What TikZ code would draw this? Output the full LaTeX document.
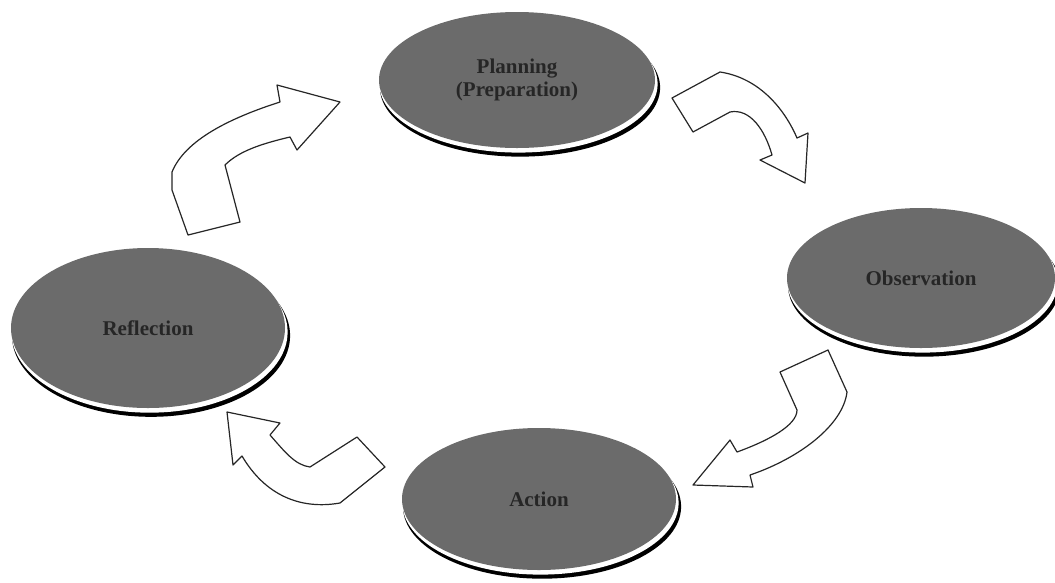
\documentclass[tikz,border=0pt]{standalone}
\usepackage{fontspec}
\setmainfont{Liberation Serif}
\usepackage{xcolor}
\usepackage{tikz}
\usetikzlibrary{shapes.geometric, shadows}

\definecolor{stagegray}{RGB}{107,107,107}

\begin{document}
\begin{tikzpicture}[
        x=1pt, y=-1pt,
        stage/.style={
            ellipse,
            fill=stagegray,
            inner sep=0pt,
            align=center,
            text=black!85,
            font=\fontsize{21}{23}\selectfont\bfseries,
            general shadow={fill=black, shadow scale=1.015, shadow xshift=3pt, shadow yshift=-7.5pt},
            general shadow={fill=white, shadow scale=1.008, shadow xshift=1.5pt, shadow yshift=-4pt}
        },
        turn/.style={draw=black!85, line width=1.2pt, fill=white, line join=round}
    ]

    \useasboundingbox (0,0) rectangle (1055,582);

    \node (planning)    [stage, minimum width=276pt, minimum height=136pt] at (517,80) {Planning\\(Preparation)};
    \node (observation) [stage, minimum width=268pt, minimum height=140pt] at (921,278) {Observation};
    \node (reflection)  [stage, minimum width=274pt, minimum height=160pt] at (148,328) {Reflection};
    \node (action)      [stage, minimum width=274pt, minimum height=142pt] at (539,499) {Action};

    % reflection -> planning
    \draw [turn] (188,235) -- (240,222) -- (225,165)
        .. controls (240,150) and (265,143) .. (290,137) -- (297,150) -- (340,102) -- (277,85) -- (280,102)
        .. controls (230,118) and (185,140) .. (172,172) -- (172,190) -- cycle;

    % planning -> observation
    \draw [turn] (672,98) -- (693,132) -- (730,112)
        .. controls (750,108) and (765,130) .. (772,155) -- (760,160) -- (805,183) -- (808,133) -- (797,138)
        .. controls (785,110) and (760,78) .. (720,72) -- cycle;

    % observation -> action
    \draw [turn] (780,372) -- (828,350) -- (847,392)
        .. controls (843,425) and (800,458) .. (750,475) -- (753,487) -- (693,485) -- (730,440) -- (737,452)
        .. controls (770,440) and (797,425) .. (797,410) -- cycle;

    % action -> reflection
    \draw [turn] (227,412) -- (280,423) -- (270,435)
        .. controls (285,452) and (295,465) .. (310,467) -- (357,437) -- (385,467) -- (340,503)
        .. controls (300,510) and (265,495) .. (242,456) -- (233,465) -- cycle;

\end{tikzpicture}
\end{document}
